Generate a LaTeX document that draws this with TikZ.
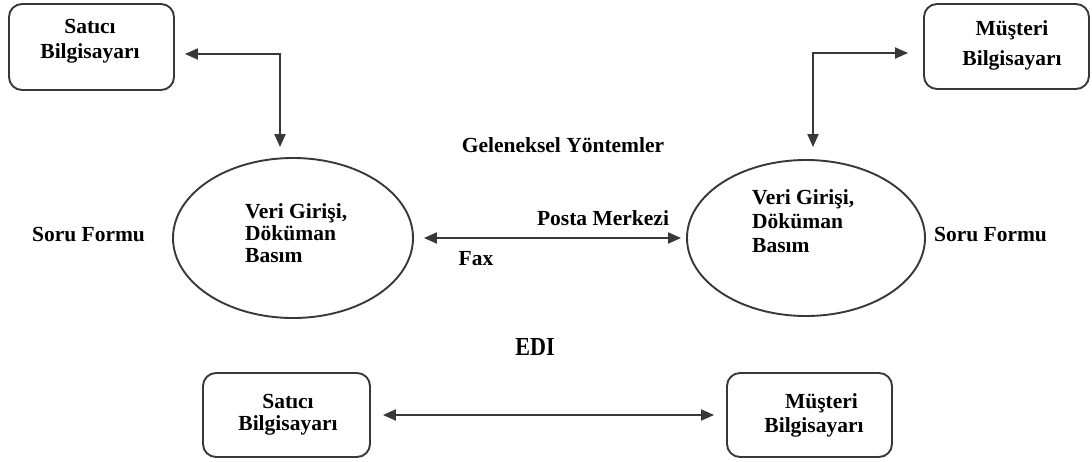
\documentclass[tikz,border=0pt]{standalone}
\usepackage{fontspec}
\setmainfont{Liberation Serif}
\usetikzlibrary{arrows.meta,shapes.geometric}
\definecolor{ln}{HTML}{383838}
\begin{document}
\begin{tikzpicture}[x=1pt,y=-1pt,
  box/.style={draw=ln, line width=1.9pt, rounded corners=13pt, inner sep=0pt},
  oval/.style={draw=ln, line width=1.9pt, ellipse, inner sep=0pt},
  lbl/.style={font=\fontsize{21.5}{25}\selectfont\bfseries, inner sep=0pt},
  arr/.style={draw=ln, line width=1.9pt, {Triangle[length=13pt,width=11pt]}-{Triangle[length=13pt,width=11pt]}}
]
\useasboundingbox (0,0) rectangle (1092,461);
% boxes
\node[box, minimum width=165pt, minimum height=86pt] (tl) at (91.5,47) {};
\node[box, minimum width=165pt, minimum height=85pt] (tr) at (1006.5,46.5) {};
\node[box, minimum width=167pt, minimum height=84pt] (bl) at (286.5,415) {};
\node[box, minimum width=165pt, minimum height=84pt] (br) at (809.5,415) {};
% ellipses
\node[oval, minimum width=240pt, minimum height=160pt] (le) at (293,238) {};
\node[oval, minimum width=238pt, minimum height=156pt] (re) at (806,238) {};
% box texts (base anchor = last line)
\node[lbl, align=center, anchor=base, font=\fontsize{21.5}{25}\selectfont\bfseries] (tlt) at (90,58) {Satıcı\\Bilgisayarı};
\node[lbl, align=center, anchor=base, font=\fontsize{21.5}{30}\selectfont\bfseries] (trt) at (1012,65) {Müşteri\\Bilgisayarı};
\node[lbl, align=center, anchor=base, font=\fontsize{21.5}{22}\selectfont\bfseries] (blt) at (288,430) {Satıcı\\Bilgisayarı};
\node[lbl, align=center, anchor=base, font=\fontsize{21.5}{24}\selectfont\bfseries] (brt) at (814,432) {\hspace*{15pt}Müşteri\\Bilgisayarı};
% ellipse texts
\node[lbl, align=left, anchor=base west, font=\fontsize{21.5}{22}\selectfont\bfseries] (let) at (245,262) {Veri Girişi,\\Döküman\\Basım};
\node[lbl, align=left, anchor=base west, font=\fontsize{21.5}{24}\selectfont\bfseries] (ret) at (752,252) {Veri Girişi,\\Döküman\\Basım};
% labels
\node[lbl, anchor=base] (sfl) at (88.5,241) {Soru Formu};
\node[lbl, anchor=base] (sfr) at (990.5,241) {Soru Formu};
\node[lbl, anchor=base] (gy) at (563,152) {Geleneksel Yöntemler};
\node[lbl, anchor=base] (pm) at (603,225) {Posta Merkezi};
\node[lbl, anchor=base] (fax) at (476,265) {Fax};
\node[lbl, anchor=base, font=\fontsize{26}{30}\selectfont\bfseries] (edi) at (535,355) {\scalebox{0.85}[1]{EDI}};
% connectors
\draw[arr, shorten <=10pt, shorten >=10pt] ([yshift=-7pt]tl.east) -| ([xshift=-13pt]le.north);
\draw[arr, shorten <=15pt, shorten >=12pt] ([yshift=-6.5pt]tr.west) -| ([xshift=7pt]re.north);
\draw[arr, shorten <=10pt, shorten >=5pt] (le.east) -- (re.west);
\draw[arr, shorten <=12pt, shorten >=12pt] (bl.east) -- (br.west);
\end{tikzpicture}
\end{document}
